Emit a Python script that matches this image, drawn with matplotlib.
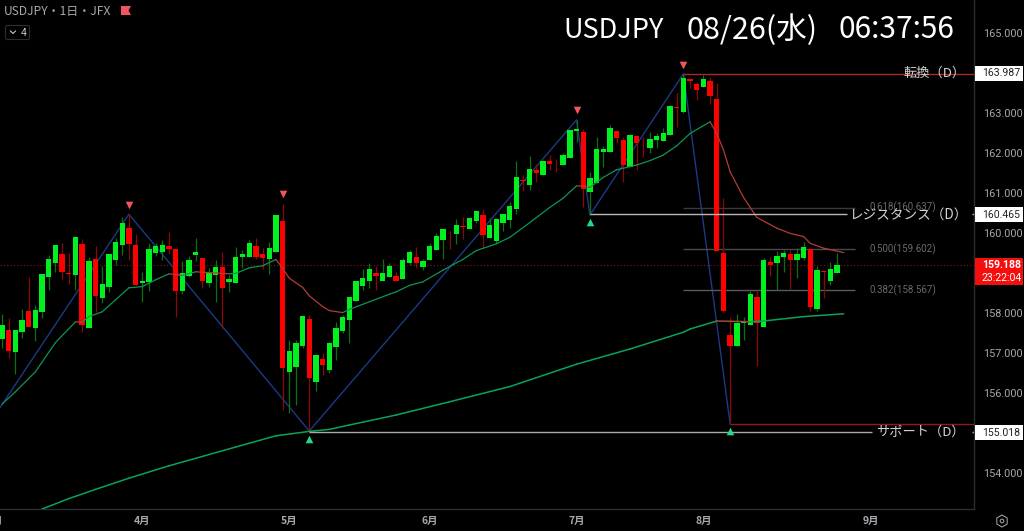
from __future__ import annotations

import matplotlib

matplotlib.use("Agg")
import matplotlib.pyplot as plt
from matplotlib.lines import Line2D
from matplotlib.patches import Circle, FancyBboxPatch, Polygon, Rectangle, RegularPolygon
from matplotlib.transforms import Affine2D

plt.rcParams["font.family"] = ["Noto Sans CJK JP", "DejaVu Sans"]

opens = [
    157.34, 157.58, 157.02, 157.53, 158.05, 157.63, 158.03, 158.90, 159.26, 159.48,
    159.01, 158.95, 159.73, 157.63, 159.34, 158.38, 158.64, 159.32, 159.70, 160.12,
    159.70, 158.76, 158.78, 159.49, 159.53, 159.67, 159.59, 158.56, 158.93, 159.45,
    159.38, 158.75, 158.95, 159.16, 158.78, 158.75, 159.40, 159.40, 159.67, 159.48,
    159.36, 159.52, 160.31, 156.53, 156.65, 157.18, 157.84, 156.27, 156.86, 156.58,
    157.16, 157.56, 157.82, 158.29, 158.68, 158.81, 158.99, 158.80, 158.89, 158.93,
    158.85, 159.26, 159.41, 159.16, 159.32, 159.58, 159.83, 160.03, 159.98, 160.18,
    160.10, 160.29, 160.45, 159.87, 159.79, 160.25, 160.33, 160.59, 161.33, 161.21,
    161.58, 161.45, 161.80, 161.76, 161.69, 161.88, 162.56, 162.52, 161.02, 161.25,
    162.03, 162.03, 162.56, 162.33, 161.65, 162.42, 162.21, 162.13, 162.33, 162.31,
    162.45, 163.14, 163.03, 163.84, 163.73, 163.66, 163.80, 163.35, 159.50, 157.45,
    157.17, 157.76, 157.70, 158.40, 157.66, 159.28, 159.26, 159.39, 159.48, 159.33,
    159.38, 159.60, 158.09, 159.05, 158.80, 159.00, 159.20,
]
closes = [
    157.70, 157.05, 157.58, 157.83, 157.65, 158.08, 158.97, 159.35, 159.71, 159.03,
    158.98, 159.89, 157.70, 159.30, 158.43, 158.72, 159.48, 159.78, 160.26, 159.73,
    158.70, 158.80, 159.59, 159.67, 159.70, 159.59, 158.56, 159.00, 159.32, 159.52,
    158.80, 159.01, 159.15, 158.63, 158.84, 159.40, 159.48, 159.75, 159.39, 159.38,
    159.63, 160.46, 156.63, 157.04, 157.26, 157.92, 156.38, 156.96, 156.69, 157.24,
    157.63, 157.90, 158.40, 158.81, 158.87, 159.09, 158.92, 158.99, 159.17, 158.80,
    159.32, 159.53, 159.24, 159.29, 159.68, 159.92, 160.09, 160.02, 160.21, 160.14,
    160.37, 160.56, 159.96, 160.21, 160.35, 160.47, 160.67, 161.39, 161.30, 161.60,
    161.49, 161.81, 161.73, 161.74, 161.94, 162.58, 162.60, 161.11, 161.38, 162.09,
    162.10, 162.63, 162.38, 161.70, 162.46, 162.26, 162.19, 162.35, 162.43, 162.50,
    163.18, 163.13, 163.87, 163.79, 163.58, 163.86, 163.43, 159.55, 158.05, 157.17,
    157.76, 157.79, 158.47, 157.74, 159.33, 159.19, 159.43, 159.51, 159.33, 159.48,
    159.64, 158.16, 159.08, 159.02, 159.10, 159.20, 159.19,
]
highs = [
    157.98, 157.87, 157.58, 158.10, 158.89, 158.20, 158.97, 159.45, 159.71, 159.76,
    159.49, 159.89, 159.84, 159.41, 159.68, 159.18, 159.48, 159.87, 160.41, 160.47,
    159.98, 159.02, 159.74, 159.74, 159.83, 160.03, 159.59, 159.30, 159.43, 159.87,
    159.38, 159.12, 159.33, 159.53, 158.95, 159.66, 159.57, 159.83, 159.87, 159.62,
    159.78, 160.46, 160.73, 157.33, 157.33, 157.92, 157.95, 156.96, 156.99, 157.28,
    157.78, 157.95, 158.40, 158.81, 159.09, 159.26, 159.17, 159.36, 159.24, 159.03,
    159.38, 159.57, 159.64, 159.34, 159.76, 159.99, 160.09, 160.06, 160.34, 160.39,
    160.41, 160.56, 160.59, 160.38, 160.37, 160.47, 160.78, 161.81, 161.45, 161.93,
    161.73, 161.83, 161.95, 161.84, 161.99, 162.58, 162.83, 162.59, 161.53, 162.41,
    162.17, 162.69, 162.56, 162.41, 162.48, 162.45, 162.41, 162.53, 162.51, 162.62,
    163.20, 163.49, 163.98, 163.84, 163.78, 163.95, 163.91, 163.74, 160.87, 157.91,
    157.98, 157.91, 158.56, 158.58, 159.37, 159.41, 159.56, 159.58, 159.58, 159.62,
    159.78, 159.60, 159.18, 159.05, 159.28, 159.51, 159.20,
]
lows = [
    157.12, 156.88, 156.48, 157.37, 157.65, 157.30, 157.88, 158.58, 159.03, 158.84,
    158.72, 158.58, 157.52, 157.63, 158.03, 158.26, 158.53, 159.20, 159.45, 159.32,
    158.70, 158.28, 158.56, 159.43, 159.33, 159.48, 157.91, 158.48, 158.89, 159.30,
    158.62, 158.64, 158.28, 157.62, 158.53, 158.74, 159.12, 159.39, 159.34, 159.09,
    158.98, 159.52, 155.58, 155.51, 155.70, 157.12, 155.03, 156.05, 156.45, 156.51,
    156.83, 157.49, 157.24, 158.29, 158.58, 158.62, 158.58, 158.80, 158.89, 158.80,
    158.85, 159.20, 159.13, 159.08, 159.32, 159.58, 159.35, 159.60, 159.73, 159.84,
    160.10, 160.24, 159.62, 159.87, 159.74, 160.05, 160.12, 160.48, 161.06, 161.08,
    161.27, 161.45, 161.58, 161.53, 161.69, 161.88, 162.28, 160.64, 160.45, 161.25,
    161.66, 162.03, 162.26, 161.28, 161.65, 161.58, 161.91, 161.99, 162.12, 162.31,
    162.45, 162.66, 162.99, 163.62, 163.33, 163.64, 163.22, 159.55, 158.03, 155.24,
    157.17, 157.33, 157.70, 156.68, 157.66, 158.93, 158.58, 159.03, 158.61, 158.87,
    159.33, 158.06, 158.05, 158.37, 158.70, 159.00, 159.19,
]

short_ma_bars = [
    0, 2, 5, 8, 11, 12, 13, 15, 17, 19, 21, 23, 25, 27, 29, 30, 33, 34, 35, 37, 39, 41,
    42, 43, 45, 46, 48, 49, 51, 52, 55, 58, 59, 61, 63, 66, 69, 71, 74, 76, 79, 82, 84,
    86, 87, 88, 90, 92, 95, 97, 99, 101, 103, 106, 107, 108, 109, 111, 113, 116, 118,
    120, 121, 123, 126,
]
short_ma = [
    155.72, 156.03, 156.53, 157.26, 157.78, 157.77, 157.91, 158.03, 158.33, 158.63,
    158.66, 158.83, 158.98, 158.94, 159.03, 159.02, 158.99, 158.98, 158.99, 159.13,
    159.18, 159.34, 159.12, 158.87, 158.64, 158.43, 158.16, 158.06, 158.01, 158.09,
    158.28, 158.47, 158.53, 158.69, 158.78, 159.07, 159.34, 159.56, 159.73, 159.89,
    160.26, 160.64, 160.87, 161.18, 161.17, 161.14, 161.39, 161.58, 161.70, 161.81,
    161.95, 162.18, 162.49, 162.78, 162.48, 162.08, 161.53, 160.89, 160.39, 160.12,
    159.99, 159.91, 159.74, 159.62, 159.51,
]
long_ma_bars = [6, 10, 14, 19, 25, 35, 41, 46, 49, 52, 59, 67, 76, 86, 94, 102, 103, 107, 110, 112, 114, 120, 126]
long_ma = [
    153.10, 153.36, 153.59, 153.87, 154.18, 154.65, 154.93, 155.04, 155.09, 155.20,
    155.45, 155.78, 156.16, 156.72, 157.10, 157.52, 157.60, 157.80, 157.79, 157.78,
    157.80, 157.91, 157.98,
]

zigzag_bars = [-1, 19, 46, 86, 88, 102, 109]
zigzag_prices = [155.46, 160.47, 155.05, 162.83, 160.45, 163.98, 155.22]
peak_bars = [19, 42, 86, 102]
peak_prices = [160.69, 160.98, 163.08, 164.20]
trough_bars = [46, 88, 109]
trough_prices = [154.84, 160.27, 155.05]

fib_labels = ["0.618(160.637)", "0.500(159.602)", "0.382(158.567)"]
fib_levels = [160.637, 159.602, 158.567]
fib_colors = ["#3a3a3a", "#4a4a4a", "#5a5a5a"]

price_ticks = [165, 163, 162, 161, 160, 158, 157, 156, 154]
month_bars = [-1, 21, 43, 64, 86, 105, 130]
month_labels = ["3月", "4月", "5月", "6月", "7月", "8月", "9月"]

reversal_price = 163.987
resistance_price = 160.465
support_price = 155.018
low_line_price = 155.22
last_price = 159.188
countdown = "23:22:04"

UP = "#00f020"
DOWN = "#ff0000"
UP_WICK = "#0b7012"
DOWN_WICK = "#8a0808"
MA_UP = "#0e9455"
MA_DOWN = "#b23c36"
LABEL = "#a6a8ad"
LINE_TEXT = "#d4d4d4"


def draw_candles(ax):
    for i, (o, h, l, c) in enumerate(zip(opens, highs, lows, closes)):
        is_up = c >= o
        ax.vlines(i, l, h, color=UP_WICK if is_up else DOWN_WICK, lw=0.9, zorder=3)
        ax.bar(i, abs(c - o), bottom=min(o, c), width=0.8, color=UP if is_up else DOWN, lw=0, zorder=4)


def draw_trend_line(ax, bars, values, up_color, down_color, lw=0.9):
    # colour follows the direction of each segment
    for k in range(len(bars) - 1):
        color = down_color if values[k + 1] < values[k] else up_color
        ax.plot(bars[k:k + 2], values[k:k + 2], color=color, lw=lw, zorder=5, solid_capstyle="round")


def price_box(fig, y_top, height, face, lines, text_color):
    fig.add_artist(Rectangle((975, y_top), 48, height, transform=PX, facecolor=face, edgecolor="none", zorder=10))
    step = height / len(lines)
    for n, (line, weight) in enumerate(lines):
        fig.text(982, y_top + step * (n + 0.5), line, transform=PX, color=text_color, fontsize=7.6,
                 family="Roboto", weight=weight, ha="left", va="center", zorder=11)


fig = plt.figure(figsize=(10.24, 5.31), dpi=100, facecolor="black")
ax = fig.add_axes([0, 22 / 531, 974 / 1024, 509 / 531], facecolor="black")
# pixel coordinates for the overlay furniture, y going down
PX = Affine2D().scale(1, -1).translate(0, 531)

ax.axhline(last_price, color="#8a1414", lw=0.8, ls=(0, (1, 2)), zorder=1)

ax.plot(zigzag_bars, zigzag_prices, color="#1c3a84", lw=1.0, zorder=2)
draw_candles(ax)
draw_trend_line(ax, short_ma_bars, short_ma, MA_UP, MA_DOWN)
draw_trend_line(ax, long_ma_bars, long_ma, "#0aa35a", "#a04a3a", lw=1.1)

ax.scatter(peak_bars, peak_prices, marker="v", s=30, color="#f2555f", lw=0, zorder=6)
ax.scatter(trough_bars, trough_prices, marker="^", s=30, color="#1fd98c", lw=0, zorder=6)

ax.hlines(reversal_price, 102, 145.5, color="#a82c2c", lw=1.0, zorder=5)
ax.hlines(low_line_price, 109, 145.5, color="#8a1c1c", lw=1.0, zorder=5)
ax.hlines(resistance_price, 88, 126.5, color="#b8b8b8", lw=1.0, zorder=5)
ax.hlines(resistance_price, 145.2, 145.5, color="#b8b8b8", lw=1.0, zorder=5)
ax.hlines(support_price, 46, 130.3, color="#a8a8a8", lw=1.0, zorder=5)
ax.hlines(support_price, 145.2, 145.5, color="#a8a8a8", lw=1.0, zorder=5)

for level, label, color in zip(fib_levels, fib_labels, fib_colors):
    ax.hlines(level, 102, 127.7, color=color, lw=1.0, zorder=2)
    ax.text(129.8, level, label, color="#6b6b6b", fontsize=7, family="Roboto", va="center", ha="left", zorder=6)

ax.text(139.65, reversal_price + 0.01, "転換（D）", color=LINE_TEXT, fontsize=9.5, ha="center", va="center", zorder=7)
ax.text(135.6, resistance_price, "レジスタンス（D）", color=LINE_TEXT, fontsize=9.8, ha="center", va="center", zorder=7)
ax.text(137.55, support_price, "サポート（D）", color=LINE_TEXT, fontsize=9.5, ha="center", va="center", zorder=7)

ax.yaxis.tick_right()
ax.set_yticks(price_ticks)
ax.set_yticklabels([f"{p:.3f}" for p in price_ticks], color=LABEL, fontsize=7.8, family="Roboto")
ax.set_xticks([])
ax.tick_params(axis="y", length=0, pad=6.5)
for bar, label in zip(month_bars, month_labels):
    ax.annotate(label, (bar, 0), xycoords=ax.get_xaxis_transform(), xytext=(0, -8.5), textcoords="offset points",
                color=LABEL, fontsize=7.5, weight="bold", ha="center", va="center", annotation_clip=False)
for side in ("top", "left"):
    ax.spines[side].set_visible(False)
for side in ("right", "bottom"):
    ax.spines[side].set_color("#2a2d33")
    ax.spines[side].set_linewidth(1.0)

# limits last so the ticks can't stretch them
ax.set_xlim(-0.3, 145.5)
ax.set_ylim(153.1, 165.825)

# header
fig.text(563, 30, "USDJPY", transform=PX, color="white", fontsize=19.5, ha="left", va="center")
fig.text(686, 30, "08/26(水)", transform=PX, color="white", fontsize=22, ha="left", va="center")
fig.text(838, 30, "06:37:56", transform=PX, color="white", fontsize=21.5, ha="left", va="center")
fig.text(4, 11, "USDJPY・1日・JFX", transform=PX, color=LABEL, fontsize=8.7, ha="left", va="center")
fig.add_artist(Polygon([(121, 6), (131, 6), (128.5, 10.5), (131, 15), (121, 15)], closed=True, transform=PX,
                       facecolor="#f2555f", edgecolor="none"))
fig.add_artist(FancyBboxPatch((5.5, 25.5), 24, 14, boxstyle="round,pad=0,rounding_size=2", transform=PX,
                              facecolor="none", edgecolor="#2a2d33", lw=0.8))
fig.add_artist(Line2D([10.5, 13, 15.5], [31, 33.5, 31], transform=PX, color="#c8c8c8", lw=0.8))
fig.text(24, 32.5, "4", transform=PX, color="#c8c8c8", fontsize=7.5, ha="center", va="center", family="Roboto")

# price labels on the axis
price_box(fig, 66, 15, "white", [(f"{reversal_price:.3f}", "normal")], "#222222")
price_box(fig, 207, 15, "white", [(f"{resistance_price:.3f}", "normal")], "#222222")
price_box(fig, 425, 15, "white", [(f"{support_price:.3f}", "normal")], "#222222")
price_box(fig, 258, 27, "#f50e0e", [(f"{last_price:.3f}", "bold"), (countdown, "normal")], "white")

# settings icon
fig.add_artist(RegularPolygon((1002, 521), 6, radius=6, transform=PX, facecolor="none", edgecolor="#9a9a9a", lw=0.8))
fig.add_artist(Circle((1002, 521), 1.8, transform=PX, facecolor="none", edgecolor="#9a9a9a", lw=0.8))

fig.savefig("out.png", dpi=100, facecolor="black")
plt.close(fig)
